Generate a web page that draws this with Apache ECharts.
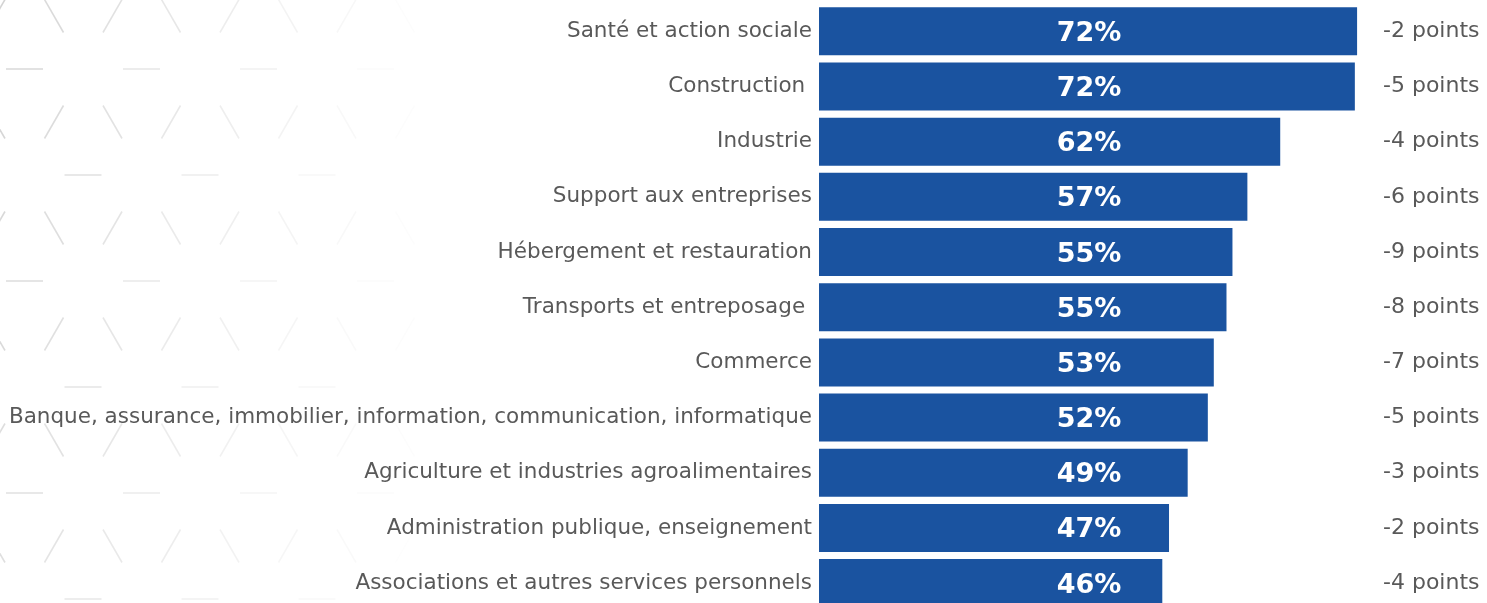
<!DOCTYPE html>
<html>
<head>
<meta charset="utf-8">
<script src="https://cdn.jsdelivr.net/npm/echarts@6/dist/echarts.min.js"></script>
<style>
html,body{margin:0;padding:0;background:#fff;overflow:hidden;width:1487px;height:603px;}
#chart{width:1487px;height:620px;}
</style>
</head>
<body>
<div id="chart"></div>
<script>
const categories = [
  "Santé et action sociale",
  "Construction ",
  "Industrie",
  "Support aux entreprises",
  "Hébergement et restauration",
  "Transports et entreposage ",
  "Commerce",
  "Banque, assurance, immobilier, information, communication, informatique",
  "Agriculture et industries agroalimentaires",
  "Administration publique, enseignement",
  "Associations et autres services personnels"
];
const values = [72.1, 71.8, 61.8, 57.4, 55.4, 54.6, 52.9, 52.1, 49.4, 46.9, 46.0];
const changes = ["-2 points", "-5 points", "-4 points", "-6 points", "-9 points", "-8 points", "-7 points", "-5 points", "-3 points", "-2 points", "-4 points"];

// decorative faint background lattice (not data)
function backgroundPattern() {
  const els = [];
  const stepX = 117, stepY = 106;
  for (let k = 0; k < 7; k++) {
    for (let i = -1; i < 6; i++) {
      const px = 24.5 + stepX * i + (k % 2 ? 58.5 : 0);
      const py = 69 + stepY * k;
      const segs = [
        [px - 18.5, py, px + 18.5, py],
        [px - 29 - 9.5, py - 53 + 16.5, px - 29 + 9.5, py - 53 - 16.5],
        [px + 29.5 - 9.5, py - 53 - 16.5, px + 29.5 + 9.5, py - 53 + 16.5]
      ];
      segs.forEach(s => {
        const cx = (s[0] + s[2]) / 2;
        const f = Math.max(0, 1 - cx / 470);
        const a = 0.17 * Math.pow(f, 1.3) * (1 - 0.3 * ((s[1] + s[3]) / 2) / 603);
        if (a <= 0.004) return;
        els.push({
          type: 'line', silent: true, z: -10,
          shape: {x1: s[0], y1: s[1], x2: s[2], y2: s[3]},
          style: {stroke: 'rgba(0,0,0,' + a.toFixed(3) + ')', lineWidth: 1.6}
        });
      });
    }
  }
  return els;
}

const chart = echarts.init(document.getElementById('chart'), null, {renderer: 'canvas'});
chart.setOption({
  backgroundColor: '#ffffff',
  animation: false,
  graphic: backgroundPattern(),
  grid: {left: 819, right: 112, top: 3.7, height: 607, containLabel: false},
  xAxis: {
    type: 'value', min: 0, max: 74.5, show: false
  },
  yAxis: [
    {
      type: 'category', data: categories, inverse: true,
      axisLine: {show: false}, axisTick: {show: false}, splitLine: {show: false},
      axisLabel: {margin: 7, color: '#595959', fontFamily: 'DejaVu Sans', fontSize: 21.5}
    },
    {
      type: 'category', data: changes, inverse: true, position: 'right',
      axisLine: {show: false}, axisTick: {show: false}, splitLine: {show: false},
      axisLabel: {margin: 8, align: 'left', color: '#595959', fontFamily: 'DejaVu Sans', fontSize: 22}
    }
  ],
  series: [{
    type: 'bar',
    data: values,
    barWidth: 48,
    itemStyle: {color: '#1A53A0'},
    label: {
      show: true,
      position: [270, '50%'],
      offset: [0, 2.5],
      align: 'center',
      verticalAlign: 'middle',
      color: '#ffffff',
      fontFamily: 'DejaVu Sans',
      fontWeight: 'bold',
      fontSize: 27,
      formatter: p => Math.round(p.value) + '%'
    }
  }]
});
</script>
</body>
</html>
